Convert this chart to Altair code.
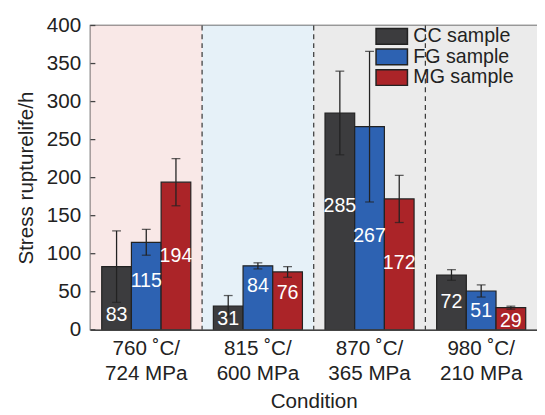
import altair as alt
import pandas as pd

conditions = ["760 ˚C/|724 MPa", "815 ˚C/|600 MPa", "870 ˚C/|365 MPa", "980 ˚C/|210 MPa"]
samples = ["CC sample", "FG sample", "MG sample"]
y_ticks = [0, 50, 100, 150, 200, 250, 300, 350, 400]

cc_val = [83, 31, 285, 72]
fg_val = [115, 84, 267, 51]
mg_val = [194, 76, 172, 29]

cc_lo = [36, 17, 230, 65]
cc_hi = [130, 45, 340, 79]
fg_lo = [98, 80, 168, 43]
fg_hi = [132, 88, 366, 59]
mg_lo = [163, 69, 141, 27]
mg_hi = [225, 83, 203, 31]

# where the value labels sit (data units)
cc_lab = [19, 14, 163, 36]
fg_lab = [64, 57, 123, 24]
mg_lab = [97, 48, 88, 11]

bar_colors = ["#3c3c3e", "#2d62b2", "#ab2428"]
bg_colors = ["#f9e8e7", "#e6f1f8", "#ebebeb", "#ebebeb"]

rows = []
for s, v, lo, hi, lab in [
    ("CC sample", cc_val, cc_lo, cc_hi, cc_lab),
    ("FG sample", fg_val, fg_lo, fg_hi, fg_lab),
    ("MG sample", mg_val, mg_lo, mg_hi, mg_lab),
]:
    for i, c in enumerate(conditions):
        rows.append({"cond": c, "sample": s, "value": v[i], "lo": lo[i], "hi": hi[i],
                     "lab": lab[i], "txt": str(v[i])})
df = pd.DataFrame(rows)
bg_df = pd.DataFrame({"cond": conditions})
sep_df = pd.DataFrame({"cond": conditions[1:]})
tick_df = pd.DataFrame({"v": y_ticks})

FONT = "Liberation Sans"
W, H = 455, 310

x_enc = alt.X(
    "cond:N", sort=conditions,
    scale=alt.Scale(domain=conditions, paddingInner=0, paddingOuter=0),
    axis=alt.Axis(title="Condition", labelAngle=0, ticks=False,
                  labelExpr="split(datum.label, '|')", labelFontSize=21,
                  labelLineHeight=26, labelPadding=8, titleFontSize=21,
                  titlePadding=7, titleFontWeight="normal", labelColor="#222",
                  titleColor="#222", domainColor="#444", domainWidth=1.5),
)
y_scale = alt.Scale(domain=[0, 400], nice=False, zero=True)
y_axis = alt.Axis(title="Stress rupturelife/h", values=y_ticks, labelOverlap=False,
                  grid=False, ticks=False, labelFontSize=21, titleFontSize=21,
                  titleFontWeight="normal", labelPadding=10, titlePadding=10,
                  labelColor="#222", titleColor="#222", domainColor="#444",
                  domainWidth=1.5)
xoff = alt.XOffset("sample:N", sort=samples,
                   scale=alt.Scale(domain=samples, paddingInner=0, paddingOuter=0.38))

bg = alt.Chart(bg_df).mark_rect().encode(
    x=x_enc,
    y=alt.value(0), y2=alt.value(H),
    fill=alt.Fill("cond:N", scale=alt.Scale(domain=conditions, range=bg_colors), legend=None),
)

seps = alt.Chart(sep_df).mark_rule(color="#333", strokeDash=[5, 4], strokeWidth=1.2).encode(
    x=alt.X("cond:N", sort=conditions, bandPosition=0),
    y=alt.value(0), y2=alt.value(H),
)

bars = alt.Chart(df).mark_bar(stroke="#222", strokeWidth=1.2).encode(
    x=x_enc,
    xOffset=xoff,
    y=alt.Y("value:Q", scale=y_scale, axis=y_axis),
    color=alt.Color(
        "sample:N", sort=samples,
        scale=alt.Scale(domain=samples, range=bar_colors),
        legend=alt.Legend(title=None, orient="none", legendX=297, legendY=1,
                          symbolType="M-2,-1H2V1H-2Z", symbolSize=256,
                          symbolStrokeColor="#222", symbolStrokeWidth=1.5,
                          symbolOpacity=1, labelFontSize=20, labelColor="#222",
                          labelOffset=12, rowPadding=-2, padding=0,
                          labelFont=FONT),
    ),
)

err = alt.Chart(df).mark_rule(color="#222", strokeWidth=1.3).encode(
    x=x_enc, xOffset=xoff,
    y=alt.Y("lo:Q", scale=y_scale, axis=y_axis), y2="hi:Q",
)
cap_lo = alt.Chart(df).mark_tick(color="#222", thickness=1.3, size=9).encode(
    x=x_enc, xOffset=xoff, y=alt.Y("lo:Q", scale=y_scale, axis=y_axis),
)
cap_hi = alt.Chart(df).mark_tick(color="#222", thickness=1.3, size=9).encode(
    x=x_enc, xOffset=xoff, y=alt.Y("hi:Q", scale=y_scale, axis=y_axis),
)

labels = alt.Chart(df).mark_text(color="white", fontSize=20, font=FONT, baseline="middle").encode(
    x=x_enc, xOffset=xoff,
    y=alt.Y("lab:Q", scale=y_scale, axis=y_axis),
    text="txt:N",
)

inner_ticks = alt.Chart(tick_df).mark_rule(color="#444", strokeWidth=1.3).encode(
    x=alt.value(0), x2=alt.value(5),
    y=alt.Y("v:Q", scale=y_scale, axis=y_axis),
)

chart = alt.layer(bg, seps, bars, err, cap_lo, cap_hi, labels, inner_ticks).resolve_scale(
    fill="independent"
).properties(
    width=W, height=H,
    autosize=alt.AutoSizeParams(type="none"),
    padding={"left": 84, "top": 14, "right": 0, "bottom": 83},
).configure(font=FONT).configure_view(stroke="#444", strokeWidth=1.5)

chart.save("out.html", embed_options={"renderer": "svg", "actions": False})
